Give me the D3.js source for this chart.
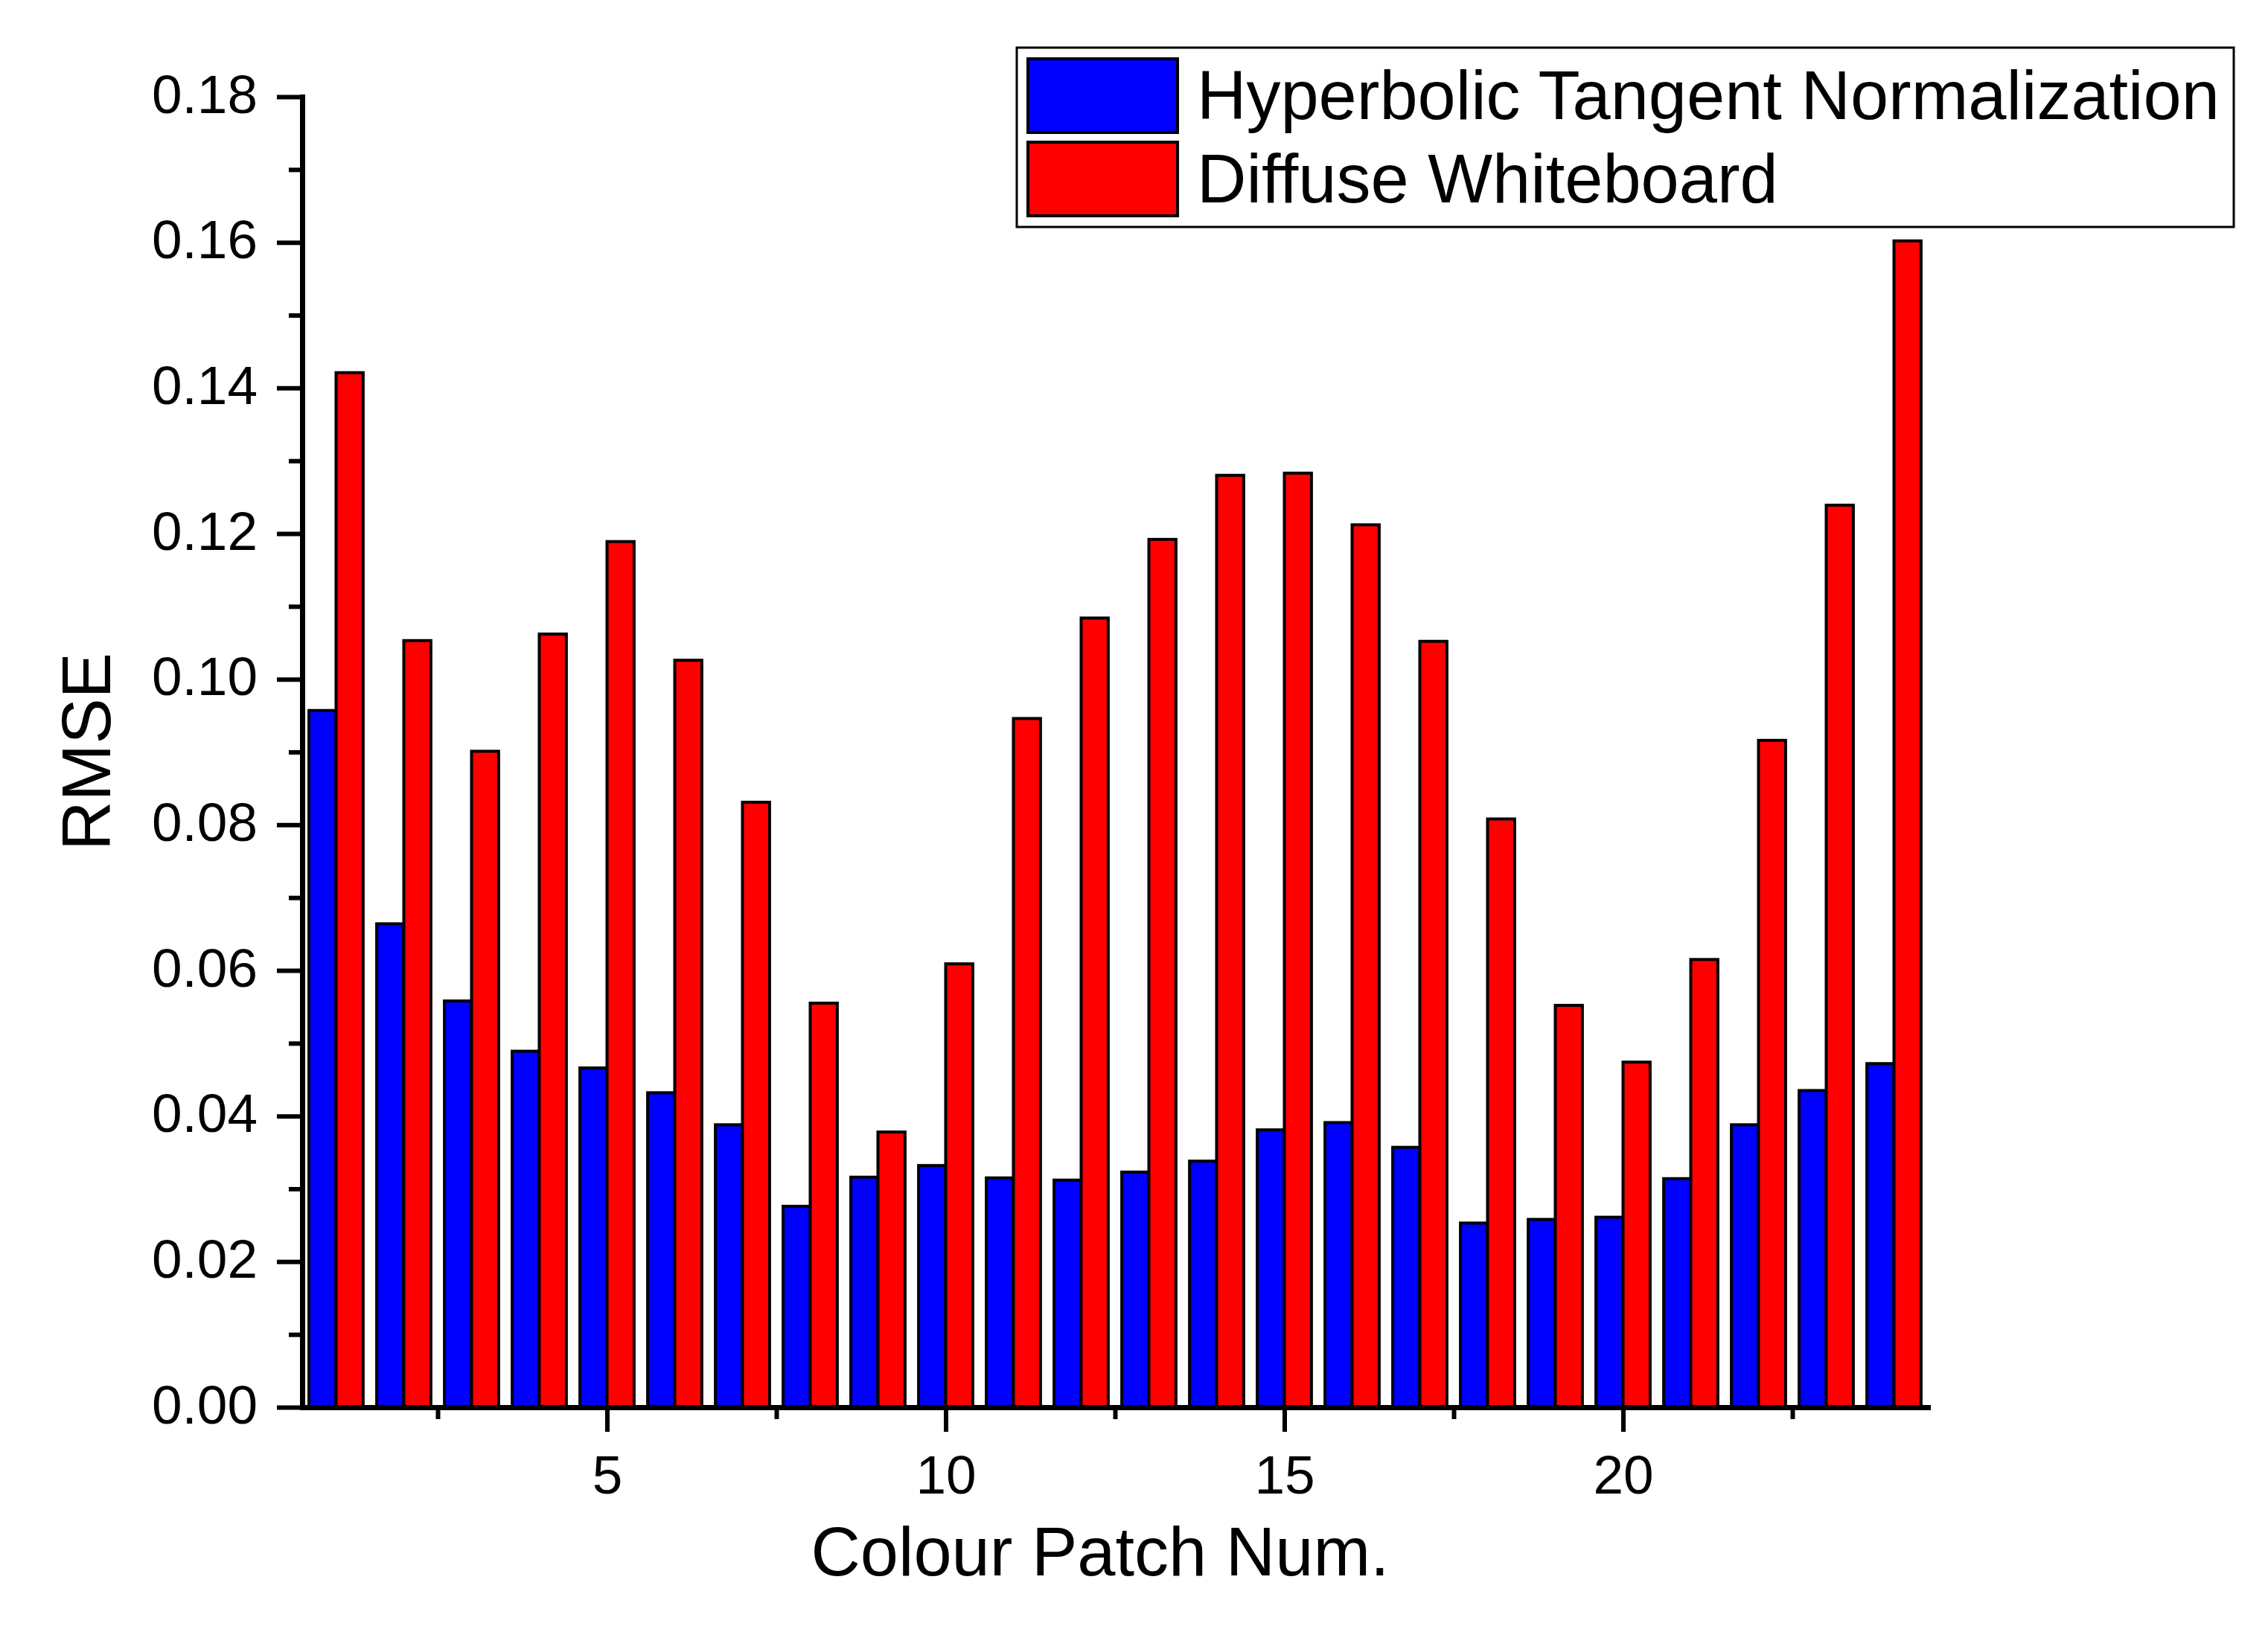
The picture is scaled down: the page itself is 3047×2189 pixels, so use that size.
<!DOCTYPE html>
<html>
<head>
<meta charset="utf-8">
<script src="https://cdn.jsdelivr.net/npm/d3@7/dist/d3.min.js"></script>
<style>
  html, body { margin: 0; padding: 0; background: #fff; }
  svg { display: block; font-family: "Liberation Sans", Arial, sans-serif; }
</style>
</head>
<body>
<svg id="chart" width="3047" height="2189"></svg>
<script>
// ---- data ----
const patches = d3.range(1, 25);
const seriesNames = ["Hyperbolic Tangent Normalization", "Diffuse Whiteboard"];
const seriesColors = ["#0000FF", "#FF0000"];
const hyperbolic = [0.0957, 0.0664, 0.0558, 0.0489, 0.0466, 0.0432, 0.0388, 0.0276, 0.0316, 0.0332,
                    0.0315, 0.0312, 0.0323, 0.0338, 0.0381, 0.0391, 0.0357, 0.0253, 0.0258, 0.0261,
                    0.0314, 0.0388, 0.0435, 0.0472];
const whiteboard = [0.1421, 0.1053, 0.0901, 0.1062, 0.1189, 0.1026, 0.0831, 0.0555, 0.0378, 0.0609,
                    0.0946, 0.1084, 0.1192, 0.1280, 0.1283, 0.1212, 0.1052, 0.0808, 0.0552, 0.0474,
                    0.0615, 0.0916, 0.1239, 0.1602];
const yTicks = [0, 0.02, 0.04, 0.06, 0.08, 0.10, 0.12, 0.14, 0.16, 0.18];
const yMinorTicks = [0.01, 0.03, 0.05, 0.07, 0.09, 0.11, 0.13, 0.15, 0.17];
const xTicks = [5, 10, 15, 20];
const xMinorTicks = [2.5, 7.5, 12.5, 17.5, 22.5];
const xTitle = "Colour Patch Num.";
const yTitle = "RMSE";

// ---- layout ----
const svg = d3.select("#chart");
const x = d3.scaleLinear().domain([0.5, 24.5]).range([406, 2590]);
const y = d3.scaleLinear().domain([0, 0.18]).range([1891, 130]);
const barW = 0.4;

const series = [hyperbolic, whiteboard];

// bars
series.forEach((vals, si) => {
  svg.append("g").selectAll("rect")
    .data(patches)
    .join("rect")
    .attr("x", d => si === 0 ? x(d - barW) : x(d))
    .attr("width", x(barW) - x(0))
    .attr("y", (d, i) => y(vals[i]))
    .attr("height", (d, i) => y(0) - y(vals[i]))
    .attr("fill", seriesColors[si])
    .attr("stroke", "#000")
    .attr("stroke-width", 4);
});

// y axis
const yAxisG = svg.append("g").attr("transform", `translate(${x(0.5)},0)`);
yAxisG.call(d3.axisLeft(y).tickValues(yTicks).tickSize(34).tickSizeOuter(0)
  .tickFormat(d3.format(".2f")).tickPadding(26));
yAxisG.append("g").call(d3.axisLeft(y).tickValues(yMinorTicks).tickSize(18).tickSizeOuter(0).tickFormat(""))
  .select(".domain").remove();

// x axis
const xAxisG = svg.append("g").attr("transform", `translate(0,${y(0)})`);
xAxisG.call(d3.axisBottom(x).tickValues(xTicks).tickSize(33).tickSizeOuter(0)
  .tickFormat(d3.format("d")).tickPadding(30));
xAxisG.append("g").call(d3.axisBottom(x).tickValues(xMinorTicks).tickSize(16).tickSizeOuter(0).tickFormat(""))
  .select(".domain").remove();

svg.selectAll(".domain").attr("stroke", "#000").attr("stroke-width", 7).attr("stroke-linecap", "square");
svg.selectAll(".tick line").attr("stroke", "#000").attr("stroke-width", 6);
svg.selectAll(".tick text").attr("font-size", 73).attr("fill", "#000")
  .attr("font-family", "'Liberation Sans', Arial, sans-serif");
yAxisG.selectAll(".tick text").attr("dy", "0.29em");
xAxisG.selectAll(".tick text").attr("dy", "0.72em");

// axis titles
svg.append("text")
  .attr("x", 1478).attr("y", 2117)
  .attr("text-anchor", "middle")
  .attr("font-size", 92)
  .text(xTitle);
svg.append("text")
  .attr("transform", "translate(148,1010) rotate(-90)")
  .attr("text-anchor", "middle")
  .attr("font-size", 92)
  .text(yTitle);

// legend
const leg = svg.append("g");
leg.append("rect")
  .attr("x", 1366).attr("y", 64).attr("width", 1635).attr("height", 241)
  .attr("fill", "#fff").attr("stroke", "#000").attr("stroke-width", 3);
seriesNames.forEach((name, i) => {
  leg.append("rect")
    .attr("x", 1381).attr("y", 79 + i * 112)
    .attr("width", 201).attr("height", 99)
    .attr("fill", seriesColors[i]).attr("stroke", "#000").attr("stroke-width", 4);
  leg.append("text")
    .attr("x", 1608).attr("y", 160 + i * 112)
    .attr("font-size", 92)
    .text(name);
});
</script>
</body>
</html>
